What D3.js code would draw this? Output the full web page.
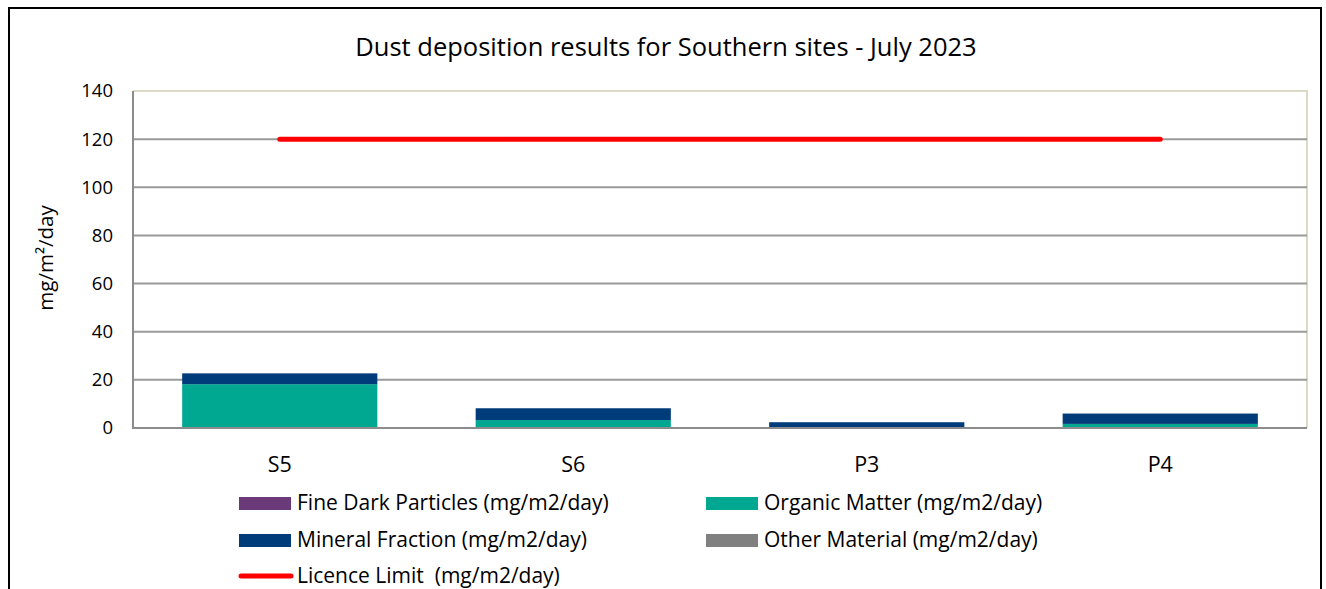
<!DOCTYPE html>
<html>
<head>
<meta charset="utf-8">
<script src="https://cdn.jsdelivr.net/npm/d3@7"></script>
<style>
  body { margin: 0; background: #fff; }
  svg { display: block; font-family: "Open Sans", Lato, sans-serif; }
</style>
</head>
<body>
<svg width="1326" height="589"></svg>
<script>
// chart data
const categories = ["S5", "S6", "P3", "P4"];
const fineDark = [0, 0, 0, 0];
const organic = [18.2, 3.3, 0.3, 1.7];
const mineral = [4.5, 4.9, 2.1, 4.3];
const other = [0, 0, 0, 0];
const licence = [120, 120, 120, 120];
const yTicks = [0, 20, 40, 60, 80, 100, 120, 140];

const seriesNames = [
  "Fine Dark Particles (mg/m2/day)",
  "Organic Matter (mg/m2/day)",
  "Mineral Fraction (mg/m2/day)",
  "Other Material (mg/m2/day)"
];
const colors = ["#6b3a78", "#00a892", "#003b7a", "#808080"];

const svg = d3.select('svg');
const width = +svg.attr('width');
const height = +svg.attr('height');

// outer chart border (cut off at the bottom like the screenshot)
svg.append("rect")
  .attr("x", 9).attr("y", 8)
  .attr("width", 1312).attr("height", 600)
  .attr("fill", "none").attr("stroke", "#000").attr("stroke-width", 2);

const plot = { left: 133, top: 91, right: 1307, bottom: 428 };

const x = d3.scaleBand()
  .domain(categories)
  .range([plot.left, plot.right])
  .paddingInner(0.335).paddingOuter(0.1675);
const xc = d3.scalePoint()
  .domain(categories)
  .range([plot.left, plot.right])
  .padding(0.5);
const y = d3.scaleLinear().domain([0, 140]).range([plot.bottom, plot.top]);

// plot area frame: beige top/right
svg.append("path")
  .attr("d", `M${plot.left},${plot.top}H${plot.right}V${plot.bottom}`)
  .attr("fill", "none").attr("stroke", "#dcd9c6").attr("stroke-width", 2);

// gridlines + y labels
svg.append("g")
  .selectAll("line")
  .data(yTicks.filter(d => d > 0 && d < 140))
  .enter().append("line")
    .attr("x1", plot.left).attr("x2", plot.right)
    .attr("y1", d => y(d)).attr("y2", d => y(d))
    .attr("stroke", "#9a9a9a").attr("stroke-width", 2);

svg.append("g")
  .selectAll("text")
  .data(yTicks)
  .enter().append("text")
    .attr("x", 113).attr("y", d => y(d))
    .attr("dy", "0.35em")
    .attr("text-anchor", "end")
    .attr("font-size", 18.5)
    .attr("fill", "#000")
    .text(d => d);

// stacked bars
const rows = categories.map((c, i) => ({
  cat: c, s0: fineDark[i], s1: organic[i], s2: mineral[i], s3: other[i]
}));
const stack = d3.stack().keys(["s0", "s1", "s2", "s3"])(rows);

svg.append("g")
  .selectAll("g")
  .data(stack)
  .enter().append("g")
    .attr("fill", (d, i) => colors[i])
  .selectAll("rect")
  .data(d => d)
  .enter().append("rect")
    .attr("x", d => x(d.data.cat))
    .attr("width", x.bandwidth())
    .attr("y", d => y(d[1]))
    .attr("height", d => y(d[0]) - y(d[1]));

// axes lines (left and bottom, gray)
svg.append("path")
  .attr("d", `M${plot.left},${plot.top}V${plot.bottom}H${plot.right}`)
  .attr("fill", "none").attr("stroke", "#8c8c8c").attr("stroke-width", 2);

// licence limit line
const line = d3.line()
  .x((d, i) => xc(categories[i]))
  .y(d => y(d));
svg.append("path")
  .datum(licence)
  .attr("d", line)
  .attr("fill", "none")
  .attr("stroke", "#ff0000")
  .attr("stroke-width", 5)
  .attr("stroke-linecap", "round");

// category labels
svg.append("g")
  .selectAll("text")
  .data(categories)
  .enter().append("text")
    .attr("x", d => xc(d)).attr("y", 472)
    .attr("text-anchor", "middle")
    .attr("font-size", 21.5)
    .text(d => d);

// title
svg.append("text")
  .attr("x", 666).attr("y", 56)
  .attr("text-anchor", "middle")
  .attr("font-size", 25.5)
  .text("Dust deposition results for Southern sites - July 2023");

// y axis title
svg.append("text")
  .attr("transform", "translate(53,258) rotate(-90)")
  .attr("text-anchor", "middle")
  .attr("font-size", 20.5)
  .text("mg/m\u00B2/day");

// legend
const legendItems = [
  { name: seriesNames[0], color: colors[0], type: "rect", x: 239, y: 503 },
  { name: seriesNames[1], color: colors[1], type: "rect", x: 706, y: 503 },
  { name: seriesNames[2], color: colors[2], type: "rect", x: 239, y: 540 },
  { name: seriesNames[3], color: colors[3], type: "rect", x: 706, y: 540 },
  { name: "Licence Limit  (mg/m2/day)", color: "#ff0000", type: "line", x: 239, y: 576 }
];
const lg = svg.append("g")
  .selectAll("g")
  .data(legendItems)
  .enter().append("g")
    .attr("transform", d => `translate(${d.x},${d.y})`);
lg.filter(d => d.type === "rect").append("rect")
  .attr("x", 0).attr("y", -6).attr("width", 52).attr("height", 13)
  .attr("fill", d => d.color);
lg.filter(d => d.type === "line").append("line")
  .attr("x1", 2).attr("x2", 52).attr("y1", 0).attr("y2", 0)
  .attr("stroke", d => d.color).attr("stroke-width", 5)
  .attr("stroke-linecap", "round");
lg.append("text")
  .attr("x", 58).attr("y", 0).attr("dy", "0.35em")
  .attr("font-size", 21)
  .style("white-space", "pre")
  .text(d => d.name);
</script>
</body>
</html>
